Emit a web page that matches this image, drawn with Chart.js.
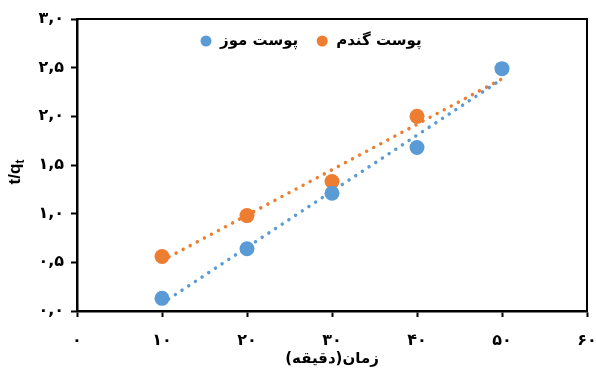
<!DOCTYPE html>
<html>
<head>
<meta charset="utf-8">
<script src="https://cdn.jsdelivr.net/npm/chart.js@4"></script>
<style>
    html, body { margin: 0; padding: 0; background: #fff; }
    #wrap { width: 596px; height: 374px; }
</style>
</head>
<body>
<div id="wrap"><canvas id="chart" dir="rtl" width="596" height="374"></canvas></div>
<script>
// داده‌ها
const seriesNames = ['پوست موز', 'پوست گندم'];
const mozX = [10, 20, 30, 40, 50];
const mozY = [0.13, 0.64, 1.21, 1.68, 2.49];
const gandomX = [10, 20, 30, 40];
const gandomY = [0.56, 0.98, 1.33, 2.0];
const xTickLabels = ['۰', '۱۰', '۲۰', '۳۰', '۴۰', '۵۰', '۶۰'];
const yTickLabels = ['۰,۰', '۰,۵', '۱,۰', '۱,۵', '۲,۰', '۲,۵', '۳,۰'];
const xTitle = 'زمان(دقیقه)';

const BLUE = '#5B9BD5';
const ORANGE = '#ED7D31';
const FONT = "'DejaVu Sans', sans-serif";

// خط روند خطی (حداقل مربعات) از روی داده‌ها
function trend(xs, ys, xStart, xEnd) {
    const n = xs.length;
    const mx = xs.reduce((a, b) => a + b, 0) / n;
    const my = ys.reduce((a, b) => a + b, 0) / n;
    let sxy = 0, sxx = 0;
    xs.forEach((x, i) => {
        sxy += (x - mx) * (ys[i] - my);
        sxx += (x - mx) * (x - mx);
    });
    const slope = sxy / sxx;
    const b = my - slope * mx;
    return [{ x: xStart, y: b + slope * xStart }, { x: xEnd, y: b + slope * xEnd }];
}

const toPoints = (xs, ys) => xs.map((x, i) => ({ x, y: ys[i] }));

// کادر بالا و راست
const frame = {
    id: 'frame',
    afterDraw(chart) {
        const { ctx, chartArea: a } = chart;
        ctx.save();
        ctx.strokeStyle = '#000';
        ctx.lineWidth = 2;
        ctx.beginPath();
        ctx.moveTo(a.left, a.top);
        ctx.lineTo(a.right, a.top);
        ctx.lineTo(a.right, a.bottom);
        ctx.stroke();
        ctx.restore();
    }
};

// عنوان محور عمودی با زیرنویس
const yTitle = {
    id: 'yTitle',
    afterDraw(chart) {
        const { ctx } = chart;
        const big = "bold 17px 'Liberation Sans', Arial, sans-serif";
        const small = "bold 12px 'Liberation Sans', Arial, sans-serif";
        ctx.save();
        ctx.direction = 'ltr';
        ctx.translate(15, 172);
        ctx.rotate(-Math.PI / 2);
        ctx.fillStyle = '#000';
        ctx.textAlign = 'left';
        ctx.textBaseline = 'alphabetic';
        ctx.font = big;
        const w1 = ctx.measureText('t/q').width;
        ctx.font = small;
        const w2 = ctx.measureText('t').width;
        const x0 = -(w1 + w2) / 2;
        ctx.font = big;
        ctx.fillText('t/q', x0, 5);
        ctx.font = small;
        ctx.fillText('t', x0 + w1, 9);
        ctx.restore();
    }
};

// راهنما داخل ناحیه نمودار
const legendInside = {
    id: 'legendInside',
    afterDraw(chart) {
        const { ctx, chartArea: a } = chart;
        const colors = [BLUE, ORANGE];
        ctx.save();
        ctx.font = 'bold 15px ' + FONT;
        ctx.textBaseline = 'middle';
        ctx.textAlign = 'left';
        const y = a.top + 22;
        let x = a.left + 129;
        seriesNames.forEach((name, i) => {
            ctx.fillStyle = colors[i];
            ctx.beginPath();
            ctx.arc(x, y, 5.5, 0, Math.PI * 2);
            ctx.fill();
            ctx.fillStyle = '#000';
            ctx.fillText(name, x + 14, y);
            x += 14 + ctx.measureText(name).width + 24;
        });
        ctx.restore();
    }
};

const dotted = {
    showLine: true,
    pointRadius: 0,
    borderWidth: 3.5,
    borderCapStyle: 'round',
    borderDash: [0.001, 8],
    fill: false,
    order: 2
};

new Chart(document.getElementById('chart'), {
    type: 'scatter',
    data: {
        datasets: [
            {
                label: seriesNames[0],
                data: toPoints(mozX, mozY),
                backgroundColor: BLUE,
                borderColor: BLUE,
                pointRadius: 7.5,
                pointBorderWidth: 0,
                order: 0
            },
            {
                label: seriesNames[1],
                data: toPoints(gandomX, gandomY),
                backgroundColor: ORANGE,
                borderColor: ORANGE,
                pointRadius: 7.5,
                pointBorderWidth: 0,
                order: 0
            },
            Object.assign({ data: trend(mozX, mozY, 10, 50), borderColor: BLUE }, dotted),
            Object.assign({ data: trend(gandomX, gandomY, 10, 50), borderColor: ORANGE }, dotted)
        ]
    },
    options: {
        responsive: false,
        animation: false,
        layout: { padding: { top: 19, right: 9, left: 0, bottom: 0 } },
        plugins: {
            legend: { display: false },
            tooltip: { enabled: false }
        },
        scales: {
            x: {
                type: 'linear',
                min: 0,
                max: 60,
                afterFit: (s) => { s.height = 63; s.paddingLeft = 0; s.paddingRight = 0; },
                ticks: {
                    stepSize: 10,
                    color: '#000',
                    padding: 14,
                    maxRotation: 0,
                    font: { family: FONT, size: 16, weight: 'bold' },
                    callback: (v) => xTickLabels[Math.round(v / 10)]
                },
                grid: {
                    drawOnChartArea: false,
                    drawTicks: true,
                    tickLength: 6,
                    tickColor: '#000',
                    tickWidth: 2
                },
                border: { display: true, color: '#000', width: 2.5 },
                title: {
                    display: true,
                    text: xTitle,
                    color: '#000',
                    font: { family: FONT, size: 15, weight: 'bold' },
                    padding: { top: 0, bottom: 6 }
                }
            },
            y: {
                type: 'linear',
                min: 0,
                max: 3,
                afterFit: (s) => { s.width = 77; s.paddingTop = 0; s.paddingBottom = 0; },
                ticks: {
                    stepSize: 0.5,
                    color: '#000',
                    padding: 7,
                    font: { family: FONT, size: 16, weight: 'bold' },
                    callback: (v) => yTickLabels[Math.round(v * 2)]
                },
                grid: {
                    drawOnChartArea: false,
                    drawTicks: true,
                    tickLength: 6,
                    tickColor: '#000',
                    tickWidth: 2
                },
                border: { display: true, color: '#000', width: 2.5 }
            }
        }
    },
    plugins: [frame, yTitle, legendInside]
});
</script>
</body>
</html>
